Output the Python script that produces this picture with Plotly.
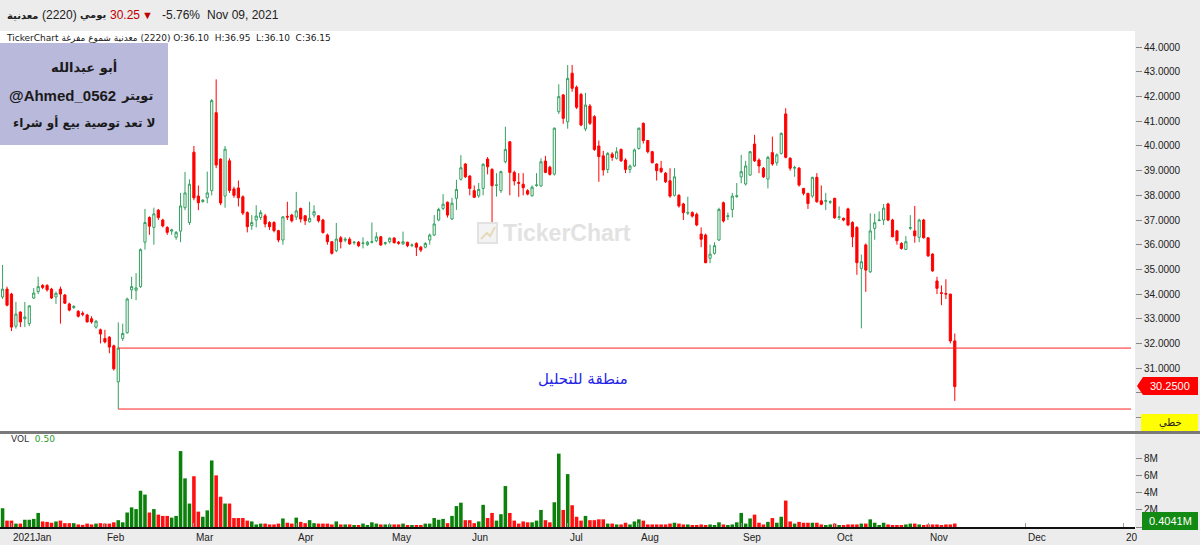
import plotly.graph_objects as go

# ---------------- data ----------------
# trading-session index (0 = first session of Jan 2021, Sun-Thu Saudi calendar)
session = list(range(-2, 213))

opens = [33.88,34.20,34.00,32.70,33.27,33.00,32.80,33.84,34.10,34.35,34.35,34.20,33.88,34.20,33.96,33.60,33.45,33.30,33.22,33.15,33.00,32.66,32.55,32.20,32.25,31.90,
30.44,32.20,32.43,34.17,34.15,34.30,36.10,37.10,36.70,37.40,37.00,36.70,36.55,36.30,36.55,37.50,36.90,39.75,37.97,37.75,37.90,38.19,41.35,39.47,37.97,39.40,
38.26,38.30,37.94,37.30,36.77,37.00,37.10,37.17,36.90,36.90,36.57,36.19,37.15,37.20,37.12,37.47,37.17,36.93,37.20,37.17,37.00,36.39,36.12,35.76,36.28,36.18,
36.22,36.08,36.10,36.05,36.00,36.10,36.16,36.32,36.05,36.12,36.27,36.10,36.03,36.10,35.97,36.05,35.90,35.90,36.19,36.39,37.00,37.47,37.72,37.04,37.88,38.65,
39.27,38.78,38.19,37.98,38.28,39.47,39.05,38.40,38.19,39.36,40.17,38.93,38.52,38.45,38.19,37.98,38.40,38.38,39.39,39.14,38.86,41.39,42.07,40.98,42.95,42.38,
42.09,40.69,41.62,41.19,40.00,39.60,39.05,39.67,39.50,39.86,39.43,39.05,39.19,39.90,40.92,40.22,39.77,39.27,39.10,38.90,38.59,38.00,38.00,37.65,37.28,37.30,
37.23,36.43,36.39,35.45,35.65,36.19,37.70,37.14,37.43,37.95,38.75,38.46,38.82,40.08,39.43,39.10,38.66,39.73,39.32,39.70,41.30,39.50,39.10,39.10,38.28,38.08,
37.97,38.73,37.78,37.76,37.72,37.88,37.10,37.07,37.45,36.90,36.70,35.04,35.99,34.90,36.66,36.98,37.00,37.65,37.00,36.56,36.05,35.81,36.67,36.56,36.30,37.00,
36.28,35.62,34.53,34.05,34.02,34.00,32.10]
highs = [35.18,34.30,34.05,33.68,33.30,33.68,33.55,34.24,34.70,34.40,34.40,34.25,34.10,34.30,34.00,33.65,33.55,33.35,33.30,33.20,33.10,32.95,32.60,32.55,32.30,31.95,
32.85,32.80,33.85,34.70,34.85,35.85,37.45,37.15,37.50,37.45,37.05,36.75,36.65,36.55,38.10,38.95,38.65,40.00,38.40,37.85,38.96,41.90,42.70,39.50,40.00,39.50,
38.35,38.60,38.00,37.35,37.20,37.60,37.40,37.25,36.95,36.95,36.60,37.15,37.74,37.25,38.14,37.50,37.20,37.74,37.60,37.20,37.05,36.45,36.15,36.88,36.35,36.30,
36.30,36.15,36.15,36.30,36.15,36.90,36.50,36.35,36.12,36.30,36.30,36.15,36.53,36.12,36.05,36.10,35.95,36.10,36.45,37.20,37.50,38.05,37.75,37.90,38.63,39.63,
39.30,38.82,38.40,38.50,39.30,39.55,39.10,38.90,39.00,40.78,40.20,39.00,38.90,38.90,38.25,38.40,38.90,39.50,39.60,39.20,40.75,42.50,42.10,43.28,43.28,42.45,
42.15,42.15,41.70,41.25,40.22,39.80,39.75,39.75,39.95,39.90,39.50,39.25,39.90,40.75,40.95,40.25,39.80,39.30,39.40,38.95,39.10,39.10,38.05,37.70,37.95,37.35,
37.30,36.70,36.45,36.00,36.10,37.50,37.75,37.30,38.10,38.50,39.64,39.40,39.80,40.45,39.50,39.15,39.60,40.38,39.70,40.55,41.53,39.55,39.20,39.15,38.30,38.10,
38.75,38.90,38.40,38.10,37.80,37.90,37.55,37.10,37.50,36.95,36.75,35.60,36.05,37.27,37.25,37.35,37.65,37.70,37.05,36.60,36.10,36.35,37.20,37.57,37.05,37.05,
36.30,35.65,34.70,34.35,34.60,34.00,32.40]
lows = [33.80,33.50,32.50,32.60,32.66,32.66,32.70,33.80,34.00,34.20,34.10,33.80,33.60,32.80,33.60,33.30,33.40,33.05,33.10,32.85,32.80,32.60,32.00,32.00,31.60,30.90,
29.34,32.10,32.40,33.80,33.75,34.25,35.80,36.40,36.00,37.00,36.70,36.40,36.40,36.20,36.10,37.40,36.80,37.80,37.40,37.70,37.68,38.00,39.10,37.60,37.50,38.10,
37.90,37.55,37.20,36.50,36.60,36.70,37.00,36.70,36.60,36.50,36.10,36.00,37.00,36.90,37.00,36.90,36.80,36.90,37.10,36.90,36.45,36.00,35.60,35.70,35.85,36.10,
36.00,36.00,35.90,35.85,35.95,36.05,36.10,35.95,35.98,36.05,36.05,36.00,36.00,35.90,35.90,35.54,35.70,35.85,36.00,36.35,36.95,37.40,37.10,37.00,37.41,38.60,
38.70,38.00,37.90,37.90,38.00,38.85,36.80,37.95,38.10,39.30,38.00,38.40,37.94,38.00,38.00,37.95,38.35,38.35,38.90,38.80,38.80,41.30,40.90,40.70,42.20,41.50,
40.80,40.60,40.85,39.80,38.55,38.80,38.90,39.40,39.45,39.35,38.90,38.90,39.15,39.85,40.10,39.70,39.30,38.60,38.90,38.50,37.90,37.95,37.50,37.00,37.20,37.10,
36.75,35.90,35.25,35.25,35.60,36.15,36.90,37.00,37.10,37.90,38.49,38.40,38.80,39.35,38.90,38.70,38.28,39.20,39.20,39.65,39.50,39.00,38.75,38.35,38.00,37.45,
37.90,37.70,37.60,37.40,37.65,37.05,37.00,36.95,36.75,35.90,34.78,32.61,34.09,34.85,36.20,36.95,36.80,36.95,36.30,36.00,35.80,35.78,36.60,36.08,36.10,36.25,
35.50,34.90,34.00,33.55,33.80,32.00,29.67]
closes = [34.20,33.55,32.66,33.19,32.87,33.07,33.52,34.04,34.30,34.27,34.17,33.84,34.03,34.00,33.63,33.35,33.50,33.10,33.18,32.87,32.87,32.90,32.38,32.06,31.85,30.97,
31.81,32.40,33.80,34.30,34.25,35.80,36.90,36.75,37.25,37.10,36.76,36.50,36.60,36.50,37.57,38.10,38.45,37.90,37.70,37.80,38.10,41.84,39.23,37.69,39.87,38.20,
38.00,37.90,37.28,36.73,36.90,37.16,37.30,36.84,36.73,36.57,36.19,37.13,37.12,36.97,37.37,37.04,36.97,37.07,37.34,36.97,36.49,36.12,35.65,36.23,36.12,36.22,
36.03,36.10,35.96,36.07,36.10,36.12,36.32,35.99,36.08,36.26,36.08,36.06,36.12,35.96,35.99,35.90,35.78,36.05,36.39,36.84,37.43,37.64,37.20,37.68,38.24,39.12,
38.75,38.28,37.92,38.24,39.26,39.16,38.39,38.42,38.96,39.86,38.93,38.58,38.49,38.31,38.05,38.33,38.42,39.36,38.93,38.85,40.72,42.00,41.12,42.74,42.34,41.57,
40.85,41.66,40.92,39.86,39.57,39.03,39.70,39.54,39.77,39.40,39.05,39.19,39.84,40.72,40.22,39.77,39.32,39.00,38.96,38.55,37.97,38.75,37.57,37.30,37.30,37.16,
36.80,36.22,35.27,35.62,35.96,37.43,36.96,37.17,37.97,37.98,38.96,39.19,39.77,39.40,39.19,38.75,39.54,39.27,39.64,40.51,39.54,39.10,39.13,38.42,38.08,37.67,
38.73,37.74,37.64,37.78,37.74,37.09,37.13,37.00,36.80,36.32,35.27,35.31,34.97,36.56,36.89,37.00,37.48,37.00,36.32,36.16,35.85,36.12,36.69,36.36,37.00,36.28,
35.55,34.94,34.23,34.03,34.00,32.10,30.25]
volumes_m = [2.2,0.75,0.75,0.4,0.4,0.85,0.85,0.95,1.65,0.65,0.6,0.5,0.65,0.75,0.45,0.45,0.45,0.3,0.25,0.4,0.3,0.4,0.45,0.4,0.4,0.55,
0.8,0.55,1.7,2.3,2.1,4.25,3.8,1.7,2.1,1.45,1.3,1.3,1.1,1.3,8.9,5.7,2.75,5.95,1.8,1.2,1.95,7.8,6.05,3.55,2.75,2.75,
1.05,1.05,1.05,0.75,0.65,0.3,0.4,0.4,0.3,0.3,0.4,1.0,0.5,0.4,1.1,0.6,0.45,0.8,0.45,0.4,0.4,0.4,0.3,0.65,0.3,0.3,
0.3,0.2,0.2,0.4,0.2,0.55,0.4,0.3,0.3,0.3,0.3,0.3,0.4,0.2,0.2,0.2,0.2,0.4,0.4,1.05,0.85,0.95,0.45,1.3,2.45,2.85,
0.8,0.8,0.45,0.65,2.6,1.05,1.65,0.75,1.5,4.8,1.65,0.75,0.4,0.65,0.55,0.55,0.75,2.0,0.8,0.55,2.9,8.6,2.0,6.2,2.55,1.2,
0.75,1.3,0.8,0.8,0.9,0.9,0.4,0.4,0.3,0.3,0.5,0.3,0.65,0.9,0.75,0.3,0.3,0.3,0.3,0.3,0.4,0.5,0.4,0.3,0.3,0.2,
0.2,0.3,0.2,0.3,0.2,0.55,0.3,0.2,0.3,0.55,1.65,0.4,1.0,1.45,0.5,0.3,0.6,1.05,0.5,1.2,3.1,0.65,0.4,0.6,0.5,0.5,
0.5,0.5,0.3,0.2,0.3,0.4,0.2,0.2,0.3,0.3,0.3,0.4,0.4,0.9,0.5,0.2,0.5,0.3,0.2,0.2,0.2,0.3,0.4,0.4,0.3,0.2,
0.3,0.3,0.3,0.2,0.3,0.3,0.4041]

month_ticks = [0, 21, 41, 64, 85, 103, 125, 141, 164, 185, 206, 228, 250]
month_labels = ["2021Jan", "Feb", "Mar", "Apr", "May", "Jun", "Jul", "Aug", "Sep", "Oct", "Nov", "Dec", "20"]
price_ticks = list(range(29, 45))
hidden_price_labels = [29, 30]      # covered by the scale / last-price tags
vol_ticks = [0, 2, 4, 6, 8]
vol_tick_labels = ["", "2M", "4M", "6M", "8M"]

zone_top = 31.81
zone_bottom = 29.34
zone_start = 24          # session where the zone begins
last_price = 30.25
change_pct = "-5.76%"
last_volume_label = "0.4041M"

# ---------------- layout helpers ----------------
W, H = 1200, 545
def px(x):
    return x / W
def py(y):
    return 1 - y / H

PLOT_RIGHT = 1135
X_RANGE = [-2.58, 252.5]

GREEN_C = "#34a060"
RED_C = "#ff0000"
vol_colors = ["#0b800b" if c >= o else "#ff1010" for o, c in zip(opens, closes)]

fig = go.Figure()
fig.add_trace(go.Candlestick(
    x=session, open=opens, high=highs, low=lows, close=closes,
    increasing=dict(line=dict(color=GREEN_C, width=1), fillcolor="white"),
    decreasing=dict(line=dict(color=RED_C, width=1), fillcolor=RED_C),
    hoverinfo="skip", showlegend=False, xaxis="x", yaxis="y"))
fig.add_trace(go.Bar(
    x=session, y=volumes_m, marker=dict(color=vol_colors, line=dict(width=0)),
    width=0.8, hoverinfo="skip", showlegend=False, xaxis="x2", yaxis="y2"))

axis_font = dict(family="Liberation Sans, DejaVu Sans", size=10, color="#222")

fig.update_layout(
    width=W, height=H, autosize=False,
    margin=dict(l=0, r=0, t=0, b=0),
    paper_bgcolor="#ececec", plot_bgcolor="white",
    showlegend=False,
    xaxis=dict(domain=[0, px(PLOT_RIGHT)], range=X_RANGE, showticklabels=False,
               showgrid=False, zeroline=False, rangeslider=dict(visible=False),
               anchor="y", ticks=""),
    xaxis2=dict(domain=[0, px(PLOT_RIGHT)], range=X_RANGE, matches="x", anchor="y2",
                showticklabels=False, showgrid=False, zeroline=False,
                tickvals=month_ticks, ticks="inside", ticklen=4, tickcolor="#999",
                showline=True, linecolor="#111", linewidth=2),
    yaxis=dict(domain=[py(431), py(31)], range=[28.45, 44.66], side="right", anchor="x",
               tickvals=price_ticks,
               ticktext=["" if v in hidden_price_labels else f"{v:.4f}" for v in price_ticks],
               ticks="outside", ticklen=6, tickcolor="#888", tickfont=axis_font,
               showgrid=False, zeroline=False, showline=False),
    yaxis2=dict(domain=[py(527), py(434)], range=[0, 10.9], side="right", anchor="x2",
                tickvals=vol_ticks, ticktext=vol_tick_labels,
                ticks="outside", ticklen=6, tickcolor="#888", tickfont=axis_font,
                showgrid=False, zeroline=False, showline=False),
)

shapes = []
annotations = []

# pane separator
shapes.append(dict(type="line", xref="paper", yref="paper", x0=0, x1=1,
                   y0=py(432.5), y1=py(432.5), line=dict(color="#7a7a7a", width=3)))

# analysis zone lines
for lvl in (zone_top, zone_bottom):
    shapes.append(dict(type="line", xref="x", yref="y", x0=zone_start, x1=251.6,
                       y0=lvl, y1=lvl, line=dict(color="#ff2020", width=1)))
annotations.append(dict(xref="x", yref="y", x=128.4, y=30.55, text="منطقة للتحليل",
                        showarrow=False, font=dict(family="DejaVu Serif, DejaVu Sans", size=15, color="#2424e6")))

# info box
shapes.append(dict(type="rect", xref="paper", yref="paper", x0=0, x1=px(168),
                   y0=py(145), y1=py(43), fillcolor="#b9b9dc", line=dict(width=0), layer="above"))
annotations.append(dict(xref="paper", yref="paper", x=px(84), y=py(67), text="<b>أبو عبدالله</b>",
                        showarrow=False, font=dict(family="DejaVu Sans", size=13, color="#1a1a1a"),
                        xanchor="center", yanchor="middle"))
annotations.append(dict(xref="paper", yref="paper", x=px(118), y=py(95), text="<b>@Ahmed_0562</b>",
                        showarrow=False, font=dict(family="Liberation Sans, DejaVu Sans", size=15, color="#1a1a1a"),
                        xanchor="right", yanchor="middle"))
annotations.append(dict(xref="paper", yref="paper", x=px(119), y=py(95), text="<b>تويتر</b>",
                        showarrow=False, font=dict(family="DejaVu Sans", size=13, color="#1a1a1a"),
                        xanchor="left", yanchor="middle"))
annotations.append(dict(xref="paper", yref="paper", x=px(84), y=py(123), text="<b>لا تعد توصية بيع أو شراء</b>",
                        showarrow=False, font=dict(family="DejaVu Sans", size=12, color="#1a1a1a"),
                        xanchor="center", yanchor="middle"))

# watermark
shapes.append(dict(type="rect", xref="paper", yref="paper", x0=px(478), x1=px(497),
                   y0=py(243), y1=py(223), fillcolor="#f3f3f3", line=dict(color="#e2e2e2", width=2)))
shapes.append(dict(type="path", xref="paper", yref="paper",
                   path=f"M {px(481)},{py(239)} L {px(487)},{py(233)} L {px(490)},{py(236)} L {px(495)},{py(227)}",
                   line=dict(color="#e6d9b8", width=2)))
annotations.append(dict(xref="paper", yref="paper", x=px(501), y=py(233), text="<b>TickerChart</b>",
                        showarrow=False, xanchor="left", yanchor="middle",
                        font=dict(family="Liberation Sans, DejaVu Sans", size=23, color="#e2e2e2")))

# header line 1
hy = py(15)
def hdr(x, text, color="#222", size=12, anchor="left", bold=False, family="Liberation Sans, DejaVu Sans"):
    t = f"<b>{text}</b>" if bold else text
    annotations.append(dict(xref="paper", yref="paper", x=px(x), y=hy, text=t, showarrow=False,
                            xanchor=anchor, yanchor="middle", borderpad=0,
                            font=dict(family=family, size=size, color=color)))
hdr(6, "معدنية", size=10, bold=True, family="DejaVu Sans")
hdr(41, "(2220)")
hdr(79, "يومي", size=10, bold=True, family="DejaVu Sans")
hdr(109, f"{last_price:.2f}", color="#c00000")
hdr(147, "▼", color="#c00000", size=11, anchor="center")
hdr(161, change_pct)
hdr(206, "Nov 09, 2021")

# header line 2 (single text run, LRM keeps the number after the Arabic name)
NB = "\u00a0"
line2 = ("TickerChart معدنية شموع مفرغة \u200e(2220)" + NB + "O:36.10" + NB * 2 + "H:36.95"
         + NB * 2 + "L:36.10" + NB * 2 + "C:36.15")
annotations.append(dict(xref="paper", yref="paper", x=px(5), y=py(38), text=line2, showarrow=False,
                        xanchor="left", yanchor="middle", borderpad=0,
                        font=dict(family="DejaVu Sans", size=9, color="#1a1a1a")))

# VOL label
annotations.append(dict(xref="paper", yref="paper", x=px(9), y=py(439), showarrow=False,
                        xanchor="left", yanchor="middle",
                        text="VOL" + NB * 2 + "<span style='color:#2e9a2e'>0.50</span>",
                        font=dict(family="DejaVu Sans", size=9, color="#333")))

# month labels
for t, lab in zip(month_ticks, month_labels):
    annotations.append(dict(xref="x", yref="paper", x=t, y=py(537), text=lab, showarrow=False,
                            xanchor="left", yanchor="middle", xshift=0, font=axis_font))

# last price red tag
shapes.append(dict(type="path", xref="paper", yref="paper",
                   path=(f"M {px(1137)},{py(386)} L {px(1143)},{py(377)} L {px(1198)},{py(377)} "
                         f"L {px(1198)},{py(395)} L {px(1143)},{py(395)} Z"),
                   fillcolor="#ff0000", line=dict(width=0), layer="above"))
annotations.append(dict(xref="paper", yref="paper", x=px(1170), y=py(386), text=f"{last_price:.4f}",
                        showarrow=False, xanchor="center", yanchor="middle",
                        font=dict(family="Liberation Sans, DejaVu Sans", size=11, color="white")))

# yellow scale tag
shapes.append(dict(type="rect", xref="paper", yref="paper", x0=px(1141), x1=px(1198),
                   y0=py(431), y1=py(414), fillcolor="#ffff00", line=dict(width=0), layer="above"))
annotations.append(dict(xref="paper", yref="paper", x=px(1170), y=py(422.5), text="خطي",
                        showarrow=False, xanchor="center", yanchor="middle",
                        font=dict(family="DejaVu Sans", size=10, color="#222")))

# last volume green tag
shapes.append(dict(type="rect", xref="paper", yref="paper", x0=px(1142), x1=px(1198),
                   y0=py(530), y1=py(512), fillcolor="#138a13", line=dict(width=0), layer="above"))
annotations.append(dict(xref="paper", yref="paper", x=px(1170), y=py(521), text=last_volume_label,
                        showarrow=False, xanchor="center", yanchor="middle",
                        font=dict(family="Liberation Sans, DejaVu Sans", size=11, color="white")))

fig.update_layout(shapes=shapes, annotations=annotations)
fig.write_html("out.html", config={"displayModeBar": False},
               post_script="document.body.style.margin='0px';")
